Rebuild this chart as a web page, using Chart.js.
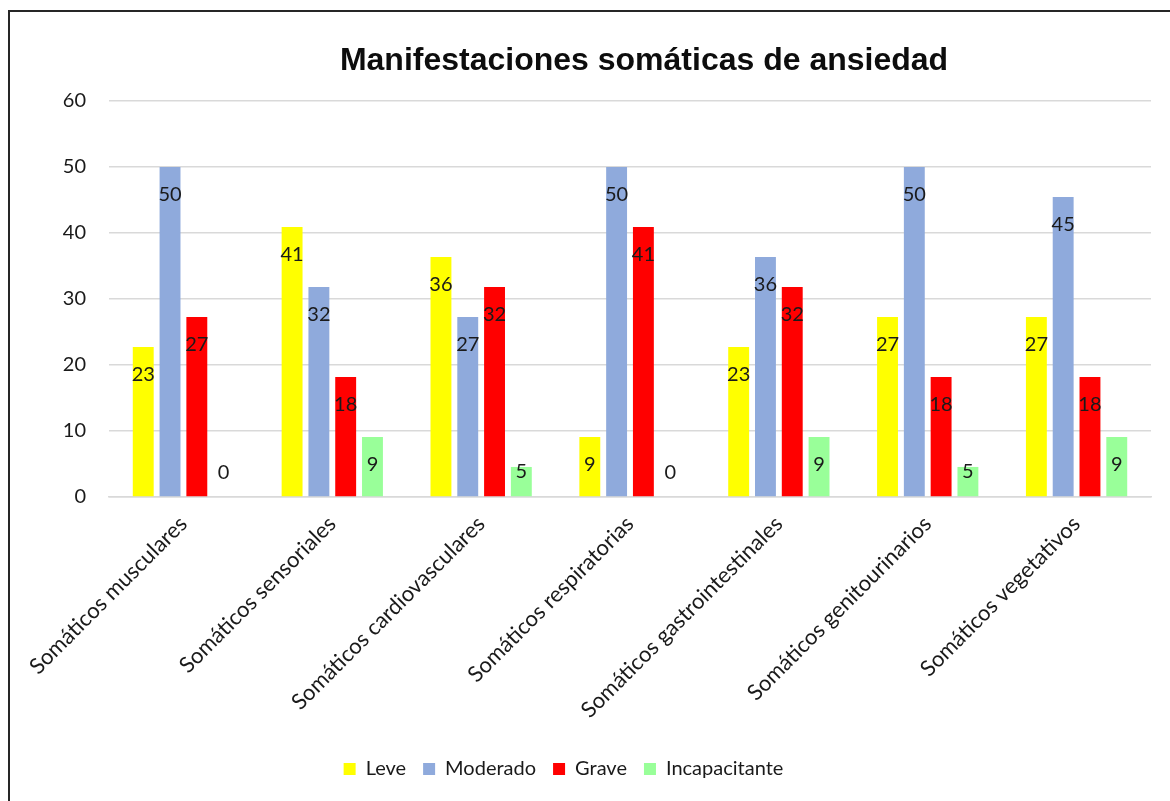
<!DOCTYPE html>
<html>
<head>
<meta charset="utf-8">
<script src="https://cdn.jsdelivr.net/npm/chart.js@4.4.1/dist/chart.umd.min.js"></script>
<style>
  html, body { margin: 0; padding: 0; background: #ffffff; }
  #wrap { position: relative; width: 1170px; height: 801px; overflow: hidden; }
  #frame { position: absolute; left: 8px; top: 10px; width: 1300px; height: 900px;
           border-left: 2px solid #262626; border-top: 2px solid #262626; pointer-events: none; }
  canvas { position: absolute; left: 0; top: 0; }
</style>
</head>
<body>
<div id="wrap">
  <canvas id="c" width="1170" height="801"></canvas>
  <div id="frame"></div>
</div>
<script>
const title = 'Manifestaciones somáticas de ansiedad';
const categories = [
  'Somáticos musculares',
  'Somáticos sensoriales',
  'Somáticos cardiovasculares',
  'Somáticos respiratorias',
  'Somáticos gastrointestinales',
  'Somáticos genitourinarios',
  'Somáticos vegetativos'
];
const seriesNames = ['Leve', 'Moderado', 'Grave', 'Incapacitante'];
const leve          = [22.73, 40.91, 36.36, 9.09, 22.73, 27.27, 27.27];
const moderado      = [50.00, 31.82, 27.27, 50.00, 36.36, 50.00, 45.45];
const grave         = [27.27, 18.18, 31.82, 40.91, 31.82, 18.18, 18.18];
const incapacitante = [0.00, 9.09, 4.55, 0.00, 9.09, 4.55, 9.09];
const yTicks = [0, 10, 20, 30, 40, 50, 60];

const colors = ['#FFFF00', '#8FAADC', '#FF0000', '#99FF99'];
const seriesValues = [leve, moderado, grave, incapacitante];
const FONT = 'Lato';

const valueLabels = {
  id: 'valueLabels',
  afterDatasetsDraw(chart) {
    const ctx = chart.ctx;
    ctx.save();
    ctx.font = '20px ' + FONT;
    ctx.fillStyle = '#1a1a1a';
    ctx.textAlign = 'center';
    ctx.textBaseline = 'middle';
    chart.data.datasets.forEach((ds, i) => {
      const meta = chart.getDatasetMeta(i);
      meta.data.forEach((bar, j) => {
        const p = bar.getProps(['x', 'y', 'base'], true);
        const y = Math.min(p.y + 27.5, p.base - 24.5);
        ctx.fillText(String(Math.round(ds.data[j])), p.x, y);
      });
    });
    ctx.restore();
  }
};

const shiftBlocks = {
  id: 'shiftBlocks',
  afterLayout(chart) {
    if (chart.titleBlock) { chart.titleBlock.left += 68.5; chart.titleBlock.right += 68.5; }
    if (chart.legend) { chart.legend.left -= 12; chart.legend.right -= 12; }
  }
};

new Chart(document.getElementById('c'), {
  type: 'bar',
  data: {
    labels: categories,
    datasets: seriesNames.map((n, i) => ({
      label: n,
      data: seriesValues[i],
      backgroundColor: colors[i],
      borderWidth: 0,
      categoryPercentage: 0.72,
      barPercentage: 0.78
    }))
  },
  options: {
    responsive: false,
    animation: false,
    devicePixelRatio: 1,
    layout: { padding: { left: 0, right: 19, top: 0, bottom: 12 } },
    plugins: {
      title: {
        display: true,
        text: title,
        color: '#0d0d0d',
        font: { family: 'Liberation Sans', size: 32, weight: 'bold', lineHeight: 1.2 },
        padding: { top: 42, bottom: 20.5 }
      },
      legend: {
        position: 'bottom',
        labels: {
          boxWidth: 12,
          boxHeight: 12,
          padding: 17,
          color: '#1a1a1a',
          font: { family: FONT, size: 20 }
        }
      },
      tooltip: { enabled: false }
    },
    scales: {
      x: {
        grid: { display: false, drawTicks: false },
        border: { display: true, color: '#d9d9d9', width: 1.5 },
        ticks: {
          color: '#1a1a1a',
          font: { family: FONT, size: 22 },
          maxRotation: 45,
          minRotation: 45,
          autoSkip: false,
          padding: 14
        },
        afterFit(s) { s.height = 245; }
      },
      y: {
        min: 0,
        max: 60,
        afterBuildTicks(s) { s.ticks = yTicks.map(v => ({ value: v })); },
        grid: { color: '#d9d9d9', lineWidth: 1.5, drawTicks: false },
        border: { display: false },
        ticks: {
          color: '#1a1a1a',
          font: { family: FONT, size: 20 },
          padding: 23
        },
        afterFit(s) { s.width = 109; }
      }
    }
  },
  plugins: [valueLabels, shiftBlocks]
});
</script>
</body>
</html>
